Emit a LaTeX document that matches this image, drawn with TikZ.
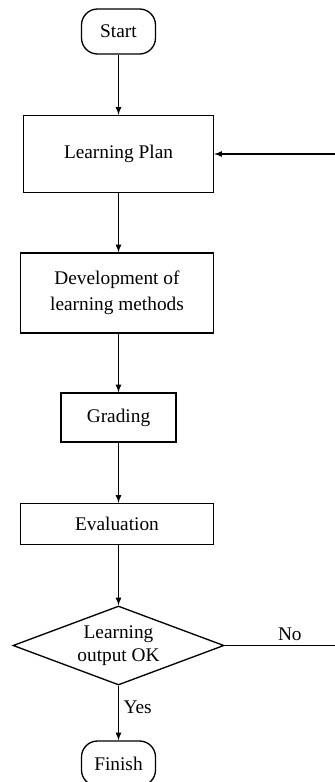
\documentclass[tikz,border=0pt]{standalone}
\usepackage{fontspec}
\setmainfont{Liberation Serif}
\usepackage{tikz}
\usetikzlibrary{arrows,positioning,shapes.geometric}
\tikzset{block/.style={draw,rectangle,inner sep=2pt,align=center,font=\fontsize{14.5}{19.5}\selectfont}}
\tikzset{term/.style={draw,rectangle,rounded corners=12pt,minimum width=55.5pt,minimum height=33.75pt,inner sep=0pt,font=\fontsize{14.5}{17}\selectfont}}
\tikzset{decision/.style={draw,diamond,aspect=2.67,minimum width=158.25pt,minimum height=59.25pt,inner sep=0pt,align=center,font=\fontsize{14.5}{17.25}\selectfont}}

\begin{document}
\begin{tikzpicture}[->, >=latex, x=0.75pt, y=-0.75pt, line width=1pt]
        \useasboundingbox (0,0) rectangle (335,782);
        \node[term] (start) at (118.5,31.5) {Start};
        \node[block,minimum width=142.5pt,minimum height=57.75pt] (plan) at (118.5,154) {Learning Plan};
        \node[block,minimum width=144.75pt,minimum height=60pt] (dev) at (117,293) {Development of\\learning methods};
        \node[block,minimum width=86.25pt,minimum height=36.75pt] (grade) at (118.5,417.5) {Grading};
        \node[block,minimum width=144.75pt,minimum height=30.75pt] (eval) at (117,524) {Evaluation};
        \node[decision] (dec) at (118.5,645.5) {Learning\\output OK};
        \node[term] (finish) at (118.5,763.5) {Finish};
        \coordinate (back) at (337,645.5);
        \path (start) edge node {} (plan);
        \path (plan.south -| start) edge node {} (dev.north -| start);
        \path (dev.south -| start) edge node {} (grade);
        \path (grade) edge node {} (eval.north -| grade);
        \path (eval.south -| grade) edge node {} (dec);
        \path (dec) edge node[right,pos=0.4,font=\fontsize{14.5}{17}\selectfont] {Yes} (finish);
        \draw[-] (dec.east) -- node[above,pos=0.58,font=\fontsize{14.5}{17}\selectfont] {No} (back);
        \draw (back) |- (plan.east);
\end{tikzpicture}
\end{document}
